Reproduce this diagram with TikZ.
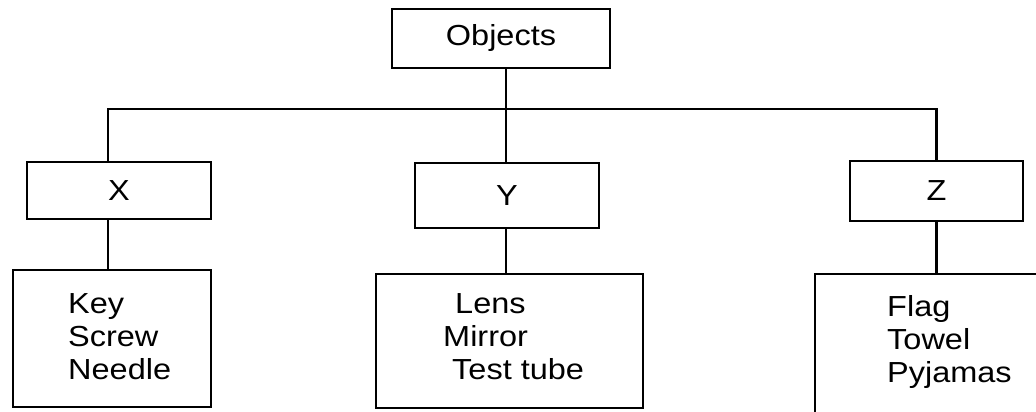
\documentclass[tikz,border=0pt]{standalone}
\usepackage{fontspec}
\setmainfont{Liberation Sans}[FakeStretch=1.12]
\usetikzlibrary{positioning}

\tikzset{
  box/.style={draw, line width=2.2pt, inner sep=0pt, font=\fontsize{29}{33}\selectfont},
  items/.style={align=left, inner sep=0pt, anchor=north west, font=\fontsize{29}{33}\selectfont},
  link/.style={line width=2.2pt}
}

\begin{document}
\begin{tikzpicture}[x=1pt,y=-1pt]
    \useasboundingbox (0,0) rectangle (1036,412);

    % Top box
    \node[box, minimum width=218pt, minimum height=59pt] (obj) at (501,38.5) {Objects};

    % Group boxes
    \node[box, minimum width=184pt, minimum height=57pt] (x) at (119,190.5) {X};
    \node[box, minimum width=184pt, minimum height=65pt] (y) at (507,195.5) {Y};
    \node[box, minimum width=173pt, minimum height=60pt] (z) at (936.5,191) {Z};

    % List boxes
    \node[box, minimum width=198pt, minimum height=137pt] (xlist) at (112,338.5) {};
    \node[box, minimum width=267pt, minimum height=134pt] (ylist) at (509.5,341) {};
    \node[box, minimum width=232pt, minimum height=150pt] (zlist) at (931,349) {};

    % Items inside the list boxes
    \node[items] (xitems) at (68,293) {Key\\Screw\\Needle};
    \node[items] (yitems) at (443,293) {\hspace*{12pt}Lens\\Mirror\\\hspace*{9pt}Test tube};
    \node[items] (zitems) at (887,295) {Flag\\Towel\\Pyjamas};

    % Connectors
    \coordinate (jn) at (506,109);
    \draw[link] (obj.south -| jn) -- (jn);
    \draw[link] ([xshift=-11pt]x.north) |- (jn) -| (z.north);
    \draw[link] (jn) -- (jn |- y.north);
    \draw[link] ([xshift=-11pt]x.south) -- ([xshift=-11pt]x.south |- xlist.north);
    \draw[link] (y.south -| jn) -- (jn |- ylist.north);
    \draw[link] (z.south) -- (z.south |- zlist.north);
\end{tikzpicture}
\end{document}
